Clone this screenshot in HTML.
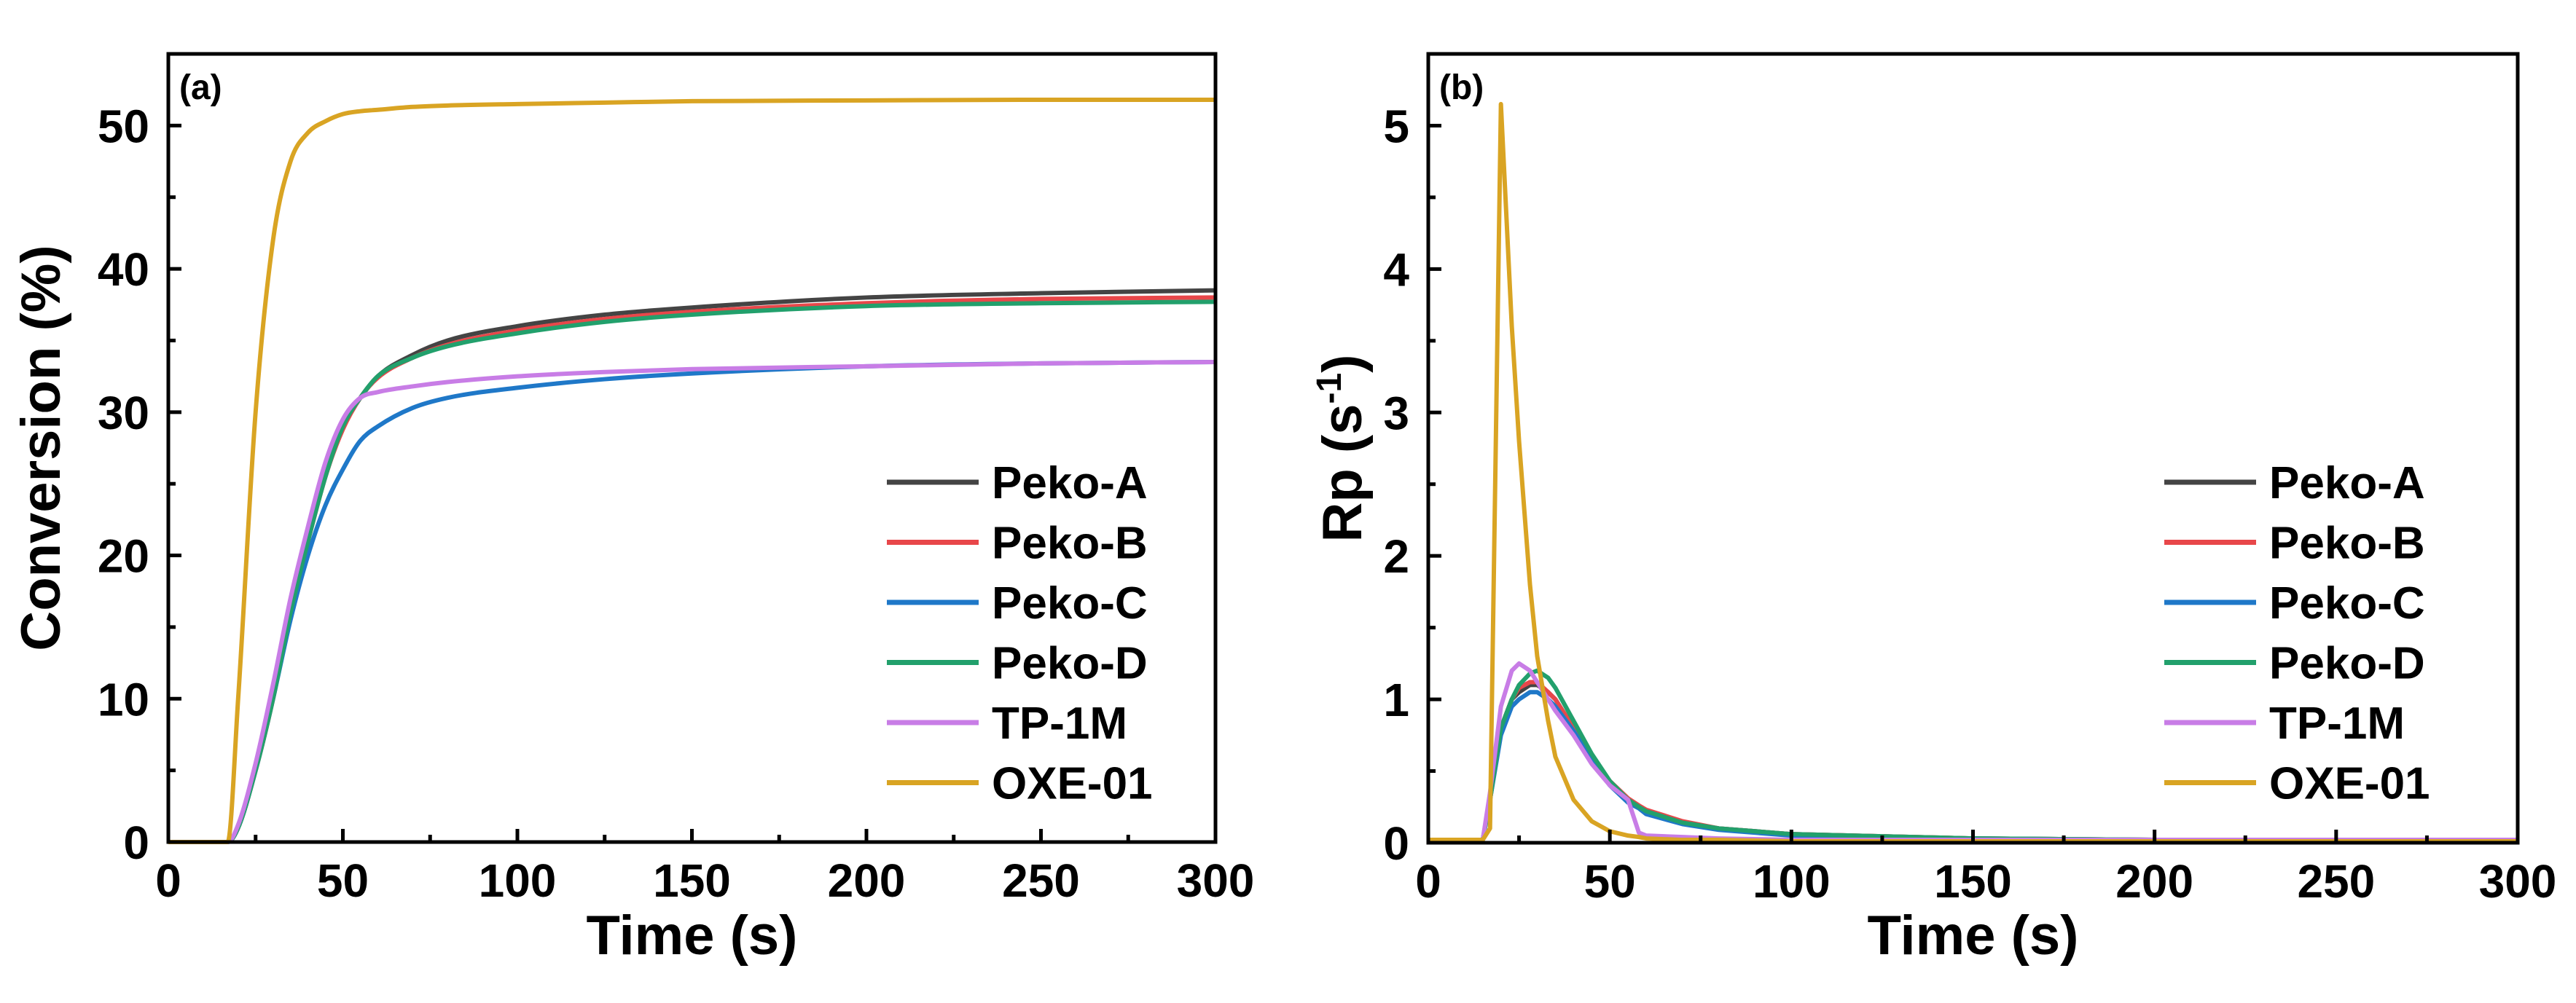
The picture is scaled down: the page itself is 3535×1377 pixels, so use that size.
<!DOCTYPE html>
<html><head><meta charset="utf-8"><style>
html,body{margin:0;padding:0;background:#fff;}
svg{display:block;}
text{font-family:"Liberation Sans",Arial,sans-serif;font-weight:bold;fill:#000;}
</style></head><body>
<svg id="fig" width="3535" height="1377" viewBox="0 0 3535 1377" xmlns="http://www.w3.org/2000/svg"></svg>
<script>
// ---- Panel (a) data ----
const convTime = [0,17,20,25,30,35,40,45,50,55,60,70,80,100,125,150,200,250,300];
const convPekoA = [0,0,1,5,10,16,21,25.5,29,31,32.5,34,35,36,36.8,37.3,38,38.3,38.5];
const convPekoB = [0,0,1,5,10,16,21,25.5,28.8,31,32.4,33.8,34.7,35.7,36.5,37,37.6,37.9,38];
const convPekoC = [0,0,1,5,10,15.5,20,23.5,26,28,29,30.3,31,31.7,32.3,32.7,33.2,33.4,33.5];
const convPekoD = [0,0,1,5,10,16,21,25.5,29,31,32.5,33.8,34.6,35.5,36.3,36.8,37.4,37.6,37.7];
const convTP1M = [0,0,1.2,5.5,11,17,22,26.5,29.5,31,31.4,31.8,32.1,32.5,32.8,33,33.2,33.4,33.5];
const convOXE = [0,0,10,30,42,47.5,49.5,50.3,50.8,51,51.1,51.3,51.4,51.5,51.6,51.7,51.75,51.8,51.8];
const convXTicks = [0,50,100,150,200,250,300];
const convYTicks = [0,10,20,30,40,50];
// ---- Panel (b) data ----
const rpTime = [0,15,17,20,23,25,28,30,33,35,40,45,50,55,58,60,70,80,100,150,200,300];
const rpPekoA = [0.02,0.02,0.3,0.8,1.0,1.05,1.1,1.1,1.05,1.0,0.8,0.6,0.42,0.3,0.25,0.22,0.14,0.1,0.06,0.03,0.02,0.02];
const rpPekoB = [0.02,0.02,0.3,0.8,1.0,1.08,1.12,1.12,1.05,1.0,0.8,0.6,0.43,0.31,0.26,0.23,0.15,0.1,0.06,0.03,0.02,0.02];
const rpPekoC = [0.02,0.02,0.3,0.75,0.95,1.0,1.05,1.05,1.0,0.95,0.78,0.58,0.4,0.28,0.24,0.2,0.13,0.09,0.05,0.03,0.02,0.02];
const rpPekoD = [0.02,0.02,0.3,0.8,1.0,1.1,1.18,1.2,1.15,1.08,0.85,0.62,0.43,0.3,0.25,0.22,0.14,0.1,0.06,0.03,0.02,0.02];
const rpTP1M = [0.02,0.02,0.35,0.95,1.2,1.25,1.2,1.12,1.0,0.92,0.75,0.55,0.4,0.3,0.07,0.05,0.04,0.03,0.02,0.02,0.02,0.02];
const rpOXE = [0.02,0.02,0.1,5.15,3.6,2.8,1.8,1.3,0.85,0.6,0.3,0.15,0.08,0.05,0.04,0.03,0.02,0.02,0.01,0.01,0.01,0.01];
const rpXTicks = [0,50,100,150,200,250,300];
const rpYTicks = [0,1,2,3,4,5];
const seriesNames = ["Peko-A","Peko-B","Peko-C","Peko-D","TP-1M","OXE-01"];
const seriesColors = ["#444444","#e8474a","#1f78c8","#22a06c","#c87de6","#d9a423"];

const NS="http://www.w3.org/2000/svg";
const svg=document.getElementById('fig');
function mk(tag,attrs,parent){const e=document.createElementNS(NS,tag);for(const k in attrs)e.setAttribute(k,attrs[k]);(parent||svg).appendChild(e);return e;}

// monotone cubic (Fritsch-Carlson) in pixel space
function monoPath(pts){
  const n=pts.length,dx=[],m=[],t=[];
  for(let i=0;i<n-1;i++){dx.push(pts[i+1][0]-pts[i][0]);m.push((pts[i+1][1]-pts[i][1])/dx[i]);}
  t[0]=m[0];t[n-1]=m[n-2];
  for(let i=1;i<n-1;i++){t[i]=(m[i-1]*m[i]<=0)?0:(m[i-1]+m[i])/2;}
  for(let i=0;i<n-1;i++){
    if(m[i]===0){t[i]=0;t[i+1]=0;continue;}
    const a=t[i]/m[i],b=t[i+1]/m[i],s=a*a+b*b;
    if(s>9){const k=3/Math.sqrt(s);t[i]=k*a*m[i];t[i+1]=k*b*m[i];}
  }
  let d="M"+pts[0][0]+","+pts[0][1];
  for(let i=0;i<n-1;i++){
    const h=dx[i]/3;
    d+=" C"+(pts[i][0]+h)+","+(pts[i][1]+t[i]*h)+" "+(pts[i+1][0]-h)+","+(pts[i+1][1]-t[i+1]*h)+" "+pts[i+1][0]+","+pts[i+1][1];
  }
  return d;
}

function panel(cfg){
  const g=mk('g',{});
  
  
  const X=v=>cfg.x0+(v-cfg.xmin)/(cfg.xmax-cfg.xmin)*(cfg.x1-cfg.x0);
  const Y=v=>cfg.y0-(v-cfg.ymin)/(cfg.ymax-cfg.ymin)*(cfg.y0-cfg.y1);
  cfg.series.forEach((s,i)=>{
    const pts=cfg.time.map((t,j)=>[X(t),Y(s[j])]);
    const d=cfg.smooth?monoPath(pts):"M"+pts.map(p=>p[0]+","+p[1]).join(" L");
    const p=mk('path',{d:d,fill:'none',stroke:seriesColors[i],'stroke-width':6,'stroke-linejoin':'round'},g);
    
    
  });
  const f=mk('rect',{x:cfg.x0,y:cfg.y1,width:cfg.x1-cfg.x0,height:cfg.y0-cfg.y1,fill:'none',stroke:'#000','stroke-width':5},g);
  
  
  cfg.xticks.forEach((v,i)=>{
    mk('line',{x1:X(v),x2:X(v),y1:cfg.y0,y2:cfg.y0-18,stroke:'#000','stroke-width':5},g);
    if(i<cfg.xticks.length-1){const m=(v+cfg.xticks[i+1])/2;mk('line',{x1:X(m),x2:X(m),y1:cfg.y0,y2:cfg.y0-10,stroke:'#000','stroke-width':5},g);}
    const t=mk('text',{x:X(v),y:cfg.y0+75,'font-size':64,'text-anchor':'middle'},g);
    t.textContent=v;
    
    
  });
  cfg.yticks.forEach((v,i)=>{
    mk('line',{x1:cfg.x0,x2:cfg.x0+18,y1:Y(v),y2:Y(v),stroke:'#000','stroke-width':5},g);
    const m=v+(cfg.yticks[1]-cfg.yticks[0])/2;
    if(m<cfg.ymax) mk('line',{x1:cfg.x0,x2:cfg.x0+10,y1:Y(m),y2:Y(m),stroke:'#000','stroke-width':5},g);
    const t=mk('text',{x:cfg.x0-26,y:Y(v)+23,'font-size':64,'text-anchor':'end'},g);
    t.textContent=v;
    
    
  });
  const xt=mk('text',{x:(cfg.x0+cfg.x1)/2,y:1310,'font-size':76,'text-anchor':'middle'},g);
  xt.textContent='Time (s)';
  
  
  const yt=mk('text',{x:0,y:0,'font-size':76,'text-anchor':'middle',transform:'translate('+cfg.ytx+','+((cfg.y0+cfg.y1)/2)+') rotate(-90)'},g);
  yt.innerHTML=cfg.ytitle;
  
  
  const pl=mk('text',{x:cfg.x0+15,y:cfg.y1+62,'font-size':48},g);
  pl.textContent=cfg.label;
  
  
  seriesNames.forEach((n,i)=>{
    const yy=cfg.legY+i*82.5;
    const lg=mk('g',{},g);
    
    
    mk('line',{x1:cfg.legX,x2:cfg.legX+126,y1:yy,y2:yy,stroke:seriesColors[i],'stroke-width':7},lg);
    const t=mk('text',{x:cfg.legX+144,y:yy+22,'font-size':62},lg);
    t.textContent=n;
  });
}

panel({name:'conversion-chart',x0:231,x1:1668,y0:1156,y1:74,xmin:0,xmax:300,ymin:0,ymax:55,
  time:convTime,series:[convPekoA,convPekoB,convPekoC,convPekoD,convTP1M,convOXE],smooth:true,
  xticks:convXTicks,yticks:convYTicks,ytx:82,ytitle:'Conversion (%)',label:'(a)',legX:1217,legY:662});
panel({name:'rp-chart',x0:1960,x1:3455,y0:1157,y1:74,xmin:0,xmax:300,ymin:0,ymax:5.5,
  time:rpTime,series:[rpPekoA,rpPekoB,rpPekoC,rpPekoD,rpTP1M,rpOXE],smooth:false,
  xticks:rpXTicks,yticks:rpYTicks,ytx:1868,ytitle:'Rp (s<tspan dy="-28" font-size="48">-1</tspan><tspan dy="28">)</tspan>',label:'(b)',legX:2970,legY:662});
</script>
</body></html>
